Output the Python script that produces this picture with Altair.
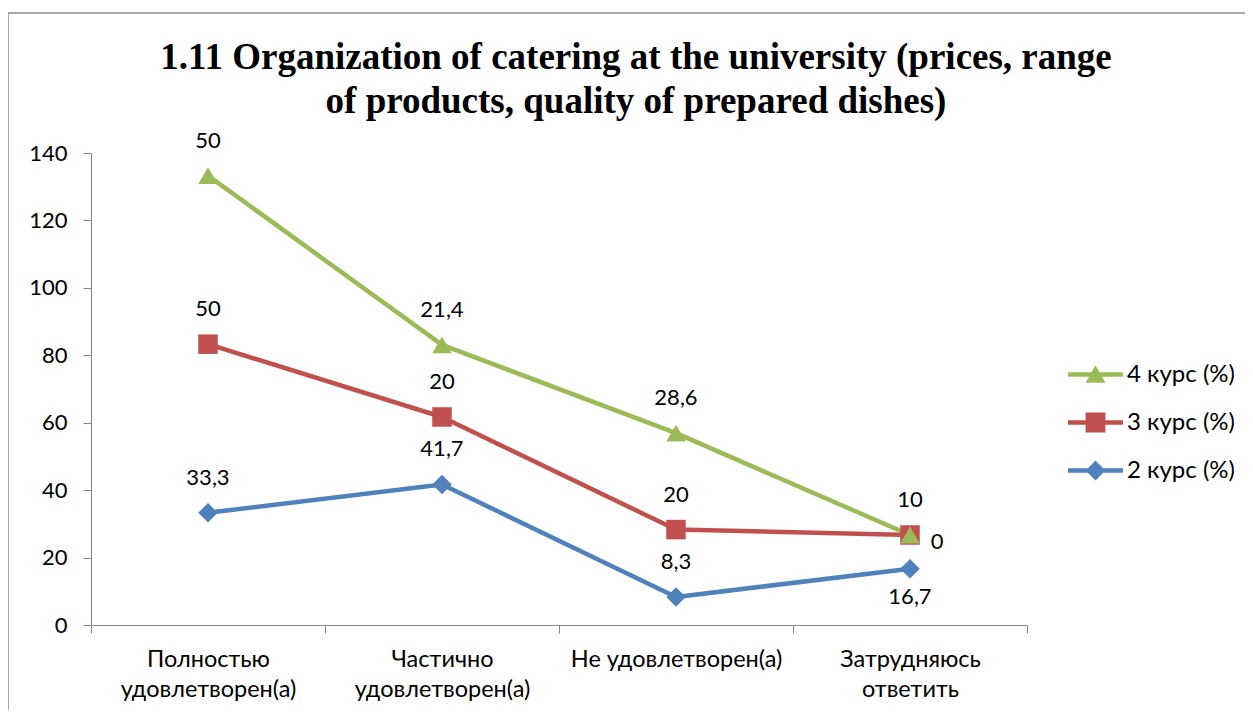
import altair as alt
import pandas as pd

categories = ["Полностью\nудовлетворен(а)", "Частично\nудовлетворен(а)",
              "Не удовлетворен(а)", "Затрудняюсь\nответить"]
series_names = ["2 курс (%)", "3 курс (%)", "4 курс (%)"]
s2 = [33.3, 41.7, 8.3, 16.7]
s3 = [50, 20, 20, 10]
s4 = [50, 21.4, 28.6, 0]
label_pos2 = ["above", "above", "above", "below"]
label_pos3 = ["above", "above", "above", "above"]
label_pos4 = ["above", "above", "above", "right"]

colors = ["#4F81BD", "#C0504D", "#9BBB59"]
shapes = ["diamond", "square", "triangle-up"]
legend_paths = [
    "M-1,-0.08H1V0.08H-1Z M0,-0.36L0.36,0L0,0.36L-0.36,0Z",
    "M-1,-0.08H1V0.08H-1Z M-0.36,-0.36H0.36V0.36H-0.36Z",
    "M-1,-0.08H1V0.08H-1Z M0,-0.34L0.36,0.3H-0.36Z",
]

rows = []
cum = [0.0] * len(categories)
for name, vals, pos in zip(series_names, [s2, s3, s4], [label_pos2, label_pos3, label_pos4]):
    for i, (c, v) in enumerate(zip(categories, vals)):
        cum[i] += v
        rows.append({"cat": c, "series": name, "value": v, "cum": round(cum[i], 2),
                     "label": f"{v:g}".replace(".", ","), "pos": pos[i]})
df = pd.DataFrame(rows)

legend_order = ["4 курс (%)", "3 курс (%)", "2 курс (%)"]
color_scale = alt.Scale(domain=series_names, range=colors)

x_enc = alt.X("cat:N", sort=categories, title=None,
              scale=alt.Scale(type="band", paddingInner=0, paddingOuter=0),
              axis=alt.Axis(labelExpr="split(datum.label, '\\n')", labelAngle=0,
                            tickBand="extent", labelFontSize=23.5, labelFont="Lato",
                            labelColor="#000000", labelLineHeight=30, labelPadding=14,
                            labelLimit=400, grid=False,
                            tickSize=8, tickColor="#868686", domainColor="#868686",
                            labelBaseline="top"))
y_enc = alt.Y("cum:Q", title=None,
              scale=alt.Scale(domain=[0, 140], nice=False),
              axis=alt.Axis(values=list(range(0, 141, 20)), labelFontSize=22,
                            labelFont="Lato", labelColor="#000000", labelPadding=16,
                            tickSize=8, tickColor="#868686", domainColor="#868686",
                            grid=False))

base = alt.Chart(df)

lines = base.mark_line(strokeWidth=4.5, strokeCap="round", strokeJoin="round").encode(
    x=x_enc, y=y_enc,
    color=alt.Color("series:N", scale=color_scale, legend=None),
    detail="series:N",
)
points = base.mark_point(filled=True, size=380, opacity=1).encode(
    x=x_enc, y=y_enc,
    color=alt.Color("series:N", scale=color_scale, legend=None),
    shape=alt.Shape("series:N", scale=alt.Scale(domain=series_names, range=shapes), legend=None),
)
legend_props = dict(title=None, orient="none", legendX=977, legendY=194,
                    symbolSize=3025, symbolOpacity=1, symbolStrokeWidth=0,
                    labelFontSize=24, labelFont="Lato", labelColor="#000000",
                    rowPadding=8, labelOffset=4, values=legend_order)
legend_layer = base.mark_point(filled=True, opacity=0).encode(
    x=x_enc, y=y_enc,
    color=alt.Color("series:N", scale=color_scale, sort=legend_order,
                    legend=alt.Legend(**legend_props)),
    shape=alt.Shape("series:N", scale=alt.Scale(domain=series_names, range=legend_paths),
                    sort=legend_order, legend=alt.Legend(**legend_props)),
)

text_common = dict(fontSize=22, font="Lato", color="#000000")
above = base.mark_text(dy=-35, **text_common).encode(x=x_enc, y=y_enc, text="label:N").transform_filter(
    alt.datum.pos == "above")
below = base.mark_text(dy=28, **text_common).encode(x=x_enc, y=y_enc, text="label:N").transform_filter(
    alt.datum.pos == "below")
right = base.mark_text(dx=27, dy=7, **text_common).encode(x=x_enc, y=y_enc, text="label:N").transform_filter(
    alt.datum.pos == "right")

border_df = pd.DataFrame({"k": [0]})
border_top = alt.Chart(border_df).mark_rule(color="#8c8c8c", strokeWidth=1.5).encode(
    x=alt.value(-83), x2=alt.value(1154), y=alt.value(-140))
border_left = alt.Chart(border_df).mark_rule(color="#8c8c8c", strokeWidth=1.5).encode(
    x=alt.value(-83), y=alt.value(-140), y2=alt.value(557))

chart = alt.layer(border_top, border_left, lines, points, legend_layer, above, below, right).resolve_scale(
    color="independent", shape="independent"
).properties(
    width=936, height=472,
    background="white",
    autosize=alt.AutoSizeParams(type="none"),
    padding={"left": 83, "top": 145, "right": 218, "bottom": 85},
    title=alt.TitleParams(
        text=["1.11 Organization of catering at the university (prices, range",
              "of products, quality of prepared dishes)"],
        font="Liberation Serif", fontSize=37, fontWeight="bold", color="#000000",
        anchor="middle", frame="group", dx=77, offset=-109, lineHeight=44,
    ),
).configure_view(stroke=None).configure_axis(grid=False)

chart.save("out.html", embed_options={"renderer": "svg", "actions": False})
